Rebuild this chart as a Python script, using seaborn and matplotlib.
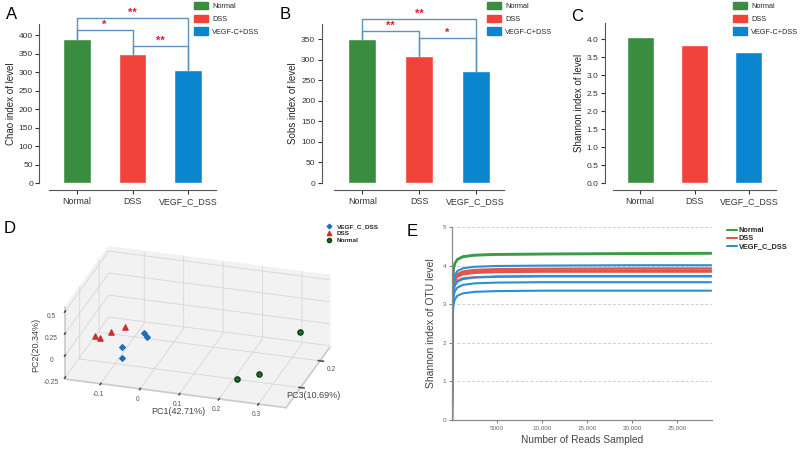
import matplotlib
matplotlib.use("Agg")
import matplotlib.pyplot as plt
import seaborn as sns
import pandas as pd
import numpy as np
from matplotlib.patches import Patch
from matplotlib.lines import Line2D

# ---- data ----
groups = ["Normal", "DSS", "VEGF_C_DSS"]
legend_names = ["Normal", "DSS", "VEGF-C+DSS"]
chao = [390, 350, 305]
sobs = [350, 310, 273]
shannon = [4.05, 3.83, 3.65]

# significance brackets: (left group, right group, bracket height, stars)
chao_sig = [(0, 2, 446, "**"), (0, 1, 414, "*"), (1, 2, 370, "**")]
sobs_sig = [(0, 2, 400, "**"), (0, 1, 371, "**"), (1, 2, 354, "*")]

# PCoA coordinates
pca_vegf_pc1 = [-0.045, -0.037, -0.078, -0.080]
pca_vegf_pc2 = [0.00, -0.05, -0.05, -0.167]
pca_vegf_pc3 = [0.075, 0.075, -0.015, -0.015]
pca_dss_pc1 = [-0.169, -0.145, -0.128, -0.105]
pca_dss_pc2 = [-0.11, -0.053, -0.04, -0.037]
pca_dss_pc3 = [0.075, 0.03, 0.075, 0.12]
pca_norm_pc1 = [0.213, 0.256, 0.305]
pca_norm_pc2 = [-0.242, -0.227, -0.065]
pca_norm_pc3 = [-0.015, 0.03, 0.255]

# rarefaction curves (Shannon vs reads sampled)
reads = [0, 60, 150, 300, 600, 1200, 2500, 5000, 10000, 20000, 28800]
rare_normal = [
    [0, 3.30, 3.86, 4.06, 4.17, 4.24, 4.28, 4.30, 4.31, 4.32, 4.33],
    [0, 3.28, 3.85, 4.05, 4.16, 4.23, 4.27, 4.29, 4.30, 4.31, 4.32],
    [0, 3.27, 3.84, 4.04, 4.15, 4.22, 4.26, 4.28, 4.29, 4.30, 4.31],
]
rare_dss = [
    [0, 2.95, 3.48, 3.67, 3.78, 3.85, 3.89, 3.91, 3.92, 3.93, 3.93],
    [0, 2.92, 3.44, 3.63, 3.74, 3.81, 3.85, 3.87, 3.88, 3.88, 3.88],
    [0, 2.90, 3.41, 3.60, 3.71, 3.77, 3.81, 3.83, 3.84, 3.84, 3.84],
    [0, 2.85, 3.33, 3.51, 3.61, 3.67, 3.70, 3.72, 3.73, 3.73, 3.73],
]
rare_vegf = [
    [0, 3.00, 3.55, 3.75, 3.86, 3.93, 3.97, 3.99, 4.00, 4.01, 4.01],
    [0, 2.80, 3.30, 3.48, 3.58, 3.65, 3.69, 3.71, 3.72, 3.72, 3.72],
    [0, 2.70, 3.15, 3.33, 3.43, 3.50, 3.54, 3.56, 3.57, 3.57, 3.57],
    [0, 2.50, 2.95, 3.12, 3.22, 3.28, 3.32, 3.34, 3.35, 3.35, 3.35],
]

bar_colors = ["#3a8d3f", "#f2433a", "#0a86d1"]
line_colors = ["#3d9a4b", "#e0564d", "#2a8fd4"]
bracket_color = "#5f93bf"
star_color = "#d91f26"

sns.set_theme(style="ticks")
plt.rcParams["font.family"] = ["Liberation Sans", "DejaVu Sans"]

W, H = 800, 451
fig = plt.figure(figsize=(W / 100, H / 100), dpi=100)


def px_axes(x0, x1, y_top, y_bot, **kw):
    return fig.add_axes([x0 / W, 1 - y_bot / H, (x1 - x0) / W, (y_bot - y_top) / H], **kw)


def bar_panel(ax, values, ylabel, ytop, yticks, left_off, sig=None):
    df = pd.DataFrame({"group": groups, "value": values})
    sns.barplot(data=df, x="group", y="value", hue="group", palette=bar_colors,
                width=0.5, legend=False, ax=ax, saturation=1)
    ax.set_xlim(-0.5, 2.5)
    ax.set_ylim(0, ytop)
    ax.set_yticks(yticks)
    ax.set_xlabel("")
    ax.set_ylabel(ylabel, fontsize=7, labelpad=2)
    sns.despine(ax=ax, offset={"left": left_off, "bottom": 5})
    for s in ["left", "bottom"]:
        ax.spines[s].set_color("#555555")
        ax.spines[s].set_linewidth(0.8)
    ax.tick_params(axis="y", labelsize=6, length=3, width=0.8, pad=1.5, colors="#333333")
    ax.tick_params(axis="x", labelsize=6.4, length=3, width=0.8, pad=2, colors="#333333")
    if sig:
        for a, b, h, stars in sig:
            ax.plot([a, a, b, b], [values[a], h, h, values[b]], color=bracket_color,
                    lw=1.0, clip_on=False, zorder=3)
            ax.text((a + b) / 2, h, stars, color=star_color, ha="center", va="bottom",
                    fontsize=8, fontweight="bold", clip_on=False)
    handles = [Patch(color=c, label=n) for c, n in zip(bar_colors, legend_names)]
    return handles


# ---- D: 3D PCoA (drawn first, transparent background) ----
axD = fig.add_axes([-0.0075, -0.013, 0.5, 0.56], projection="3d", proj_type="ortho")
axD.patch.set_alpha(0)
axD.scatter(pca_vegf_pc1, pca_vegf_pc3, pca_vegf_pc2, c="#1f6fb5", marker="D", s=8,
            depthshade=False, label="VEGF_C_DSS")
axD.scatter(pca_dss_pc1, pca_dss_pc3, pca_dss_pc2, c="#d42a2a", marker="^", s=14,
            depthshade=False, label="DSS")
axD.scatter(pca_norm_pc1, pca_norm_pc3, pca_norm_pc2, c="#1e6b2a", edgecolors="#0d3d15",
            marker="o", s=14, depthshade=False, label="Normal")
axD.set_xlim(-0.19, 0.37)
axD.set_ylim(-0.15, 0.30)
axD.set_zlim(-0.27, 0.55)
axD.set_xticks([-0.1, 0, 0.1, 0.2, 0.3])
axD.set_xticklabels(["-0.1", "0", "0.1", "0.2", "0.3"])
axD.set_yticks([0, 0.2])
axD.set_yticklabels(["", "0.2"])
axD.set_zticks([-0.25, 0, 0.25, 0.5])
axD.set_zticklabels(["-0.25", "0", "0.25", "0.5"])
axD.zaxis.set_ticks_position("lower")
axD.tick_params(labelsize=4.8, colors="#555555", pad=-3)
axD.view_init(elev=25, azim=-73)
axD.set_box_aspect((2.9, 1.87, 1.0), zoom=1.1)
for axis in (axD.xaxis, axD.yaxis, axD.zaxis):
    axis.set_pane_color((0.95, 0.95, 0.95, 1.0))
    axis._axinfo["grid"]["color"] = "#d6d6d6"
    axis._axinfo["grid"]["linewidth"] = 0.6
    axis.line.set_color("#cccccc")
fig.text(178 / W, 1 - 412 / H, "PC1(42.71%)", fontsize=6.5, color="#444444", ha="center", va="center")
fig.text(313 / W, 1 - 396 / H, "PC3(10.69%)", fontsize=6.5, color="#444444", ha="center", va="center")
fig.text(36 / W, 1 - 345 / H, "PC2(20.34%)", fontsize=6.5, color="#444444", ha="center",
         va="center", rotation=90)
axD.legend(loc="upper left", bbox_to_anchor=(320 / W, 1 - 221 / H),
           bbox_transform=fig.transFigure, frameon=False,
           prop={"size": 4.6, "weight": "bold"}, handletextpad=0.2,
           labelspacing=0.2, markerscale=0.8, borderaxespad=0)

# ---- A ----
axA = px_axes(49, 216, 24, 183)
hA = bar_panel(axA, chao, "Chao index of level", 430, range(0, 401, 50), 7, chao_sig)
# ---- B ----
axB = px_axes(334, 504, 24, 183)
hB = bar_panel(axB, sobs, "Sobs index of level", 387, range(0, 351, 50), 9, sobs_sig)
# ---- C ----
axC = px_axes(613, 776, 23, 183)
hC = bar_panel(axC, shannon, "Shannon index of level", 4.45, np.arange(0, 4.01, 0.5), 6)
axC.set_yticklabels([f"{v:.1f}" for v in np.arange(0, 4.01, 0.5)])

for hx, xl in [(hA, 194), (hB, 487), (hC, 733)]:
    fig.legend(handles=hx, loc="upper left", bbox_to_anchor=(xl / W - 0.004, 1 + 1 / H),
               frameon=False, fontsize=5.3, handlelength=2.0, handleheight=1.15,
               labelspacing=0.62, handletextpad=0.5, borderaxespad=0)

for lab, x, y in [("A", 6, 19), ("B", 280, 19), ("C", 571, 21), ("D", 4, 233), ("E", 407, 236)]:
    fig.text(x / W, 1 - y / H, lab, fontsize=12, color="black")

# ---- E: rarefaction ----
rows = []
for gname, curves in [("Normal", rare_normal), ("DSS", rare_dss), ("VEGF_C_DSS", rare_vegf)]:
    for i, ys in enumerate(curves):
        for x, y in zip(reads, ys):
            rows.append({"group": gname, "sample": f"{gname}{i}", "reads": x, "shannon": y})
rare = pd.DataFrame(rows)

axE = px_axes(452, 712, 227, 420)
sns.lineplot(data=rare, x="reads", y="shannon", hue="group", units="sample",
             estimator=None, palette=line_colors, lw=1.5, legend=False, ax=axE)
axE.set_xlim(0, 28900)
axE.set_ylim(0, 5)
axE.set_xticks([5000, 10000, 15000, 20000, 25000])
axE.set_xticklabels(["5000", "10,000", "15,000", "20,000", "25,000"])
axE.set_yticks([0, 1, 2, 3, 4, 5])
for yv in [1, 2, 3, 4, 5]:
    axE.axhline(yv, xmin=0.02, color="#cfcfcf", lw=0.7, ls=(0, (3, 2)), zorder=0)
sns.despine(ax=axE)
for s in ["left", "bottom"]:
    axE.spines[s].set_color("#8a8a8a")
    axE.spines[s].set_linewidth(0.9)
axE.tick_params(labelsize=4.5, colors="#666666", length=2, width=0.6, pad=2)
axE.set_xlabel("Number of Reads Sampled", fontsize=7.3, color="#444444", labelpad=3)
axE.set_ylabel("Shannon index of OTU level", fontsize=7.5, color="#444444", labelpad=5)
e_handles = [Line2D([], [], color=c, lw=1.5, label=n) for c, n in zip(line_colors, groups)]
fig.legend(handles=e_handles, loc="upper left", bbox_to_anchor=(724 / W, 1 - 224 / H),
           frameon=False, prop={"size": 5.3, "weight": "bold"}, handlelength=1.3,
           handletextpad=0.3, labelspacing=0.15, borderaxespad=0)

fig.savefig("out.png", dpi=100)
